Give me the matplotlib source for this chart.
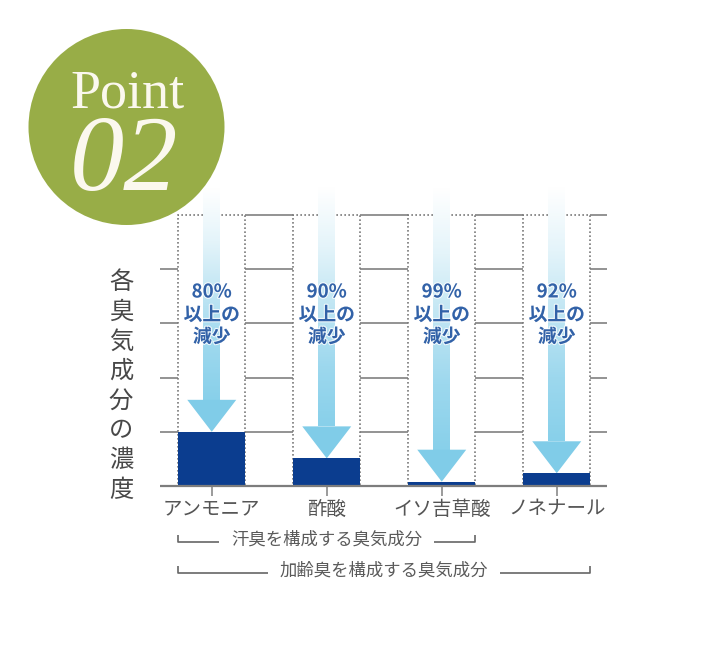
import numpy as np
import matplotlib
matplotlib.use('Agg')
import matplotlib.pyplot as plt
from matplotlib.patches import Rectangle, Polygon, Circle
from matplotlib.colors import LinearSegmentedColormap
import matplotlib.patheffects as pe

# データ
categories = ['アンモニア', '酢酸', 'イソ吉草酸', 'ノネナール']
remaining = [20, 10.2, 1.6, 4.7]        # 残った濃度 (%)
reduction = [80, 90, 99, 92]            # 減少率 (%)
ylabel_text = '各臭気成分の濃度'
group_labels = ['汗臭を構成する臭気成分', '加齢臭を構成する臭気成分']
group_spans = [(0, 2), (0, 3)]          # どのカテゴリからどのカテゴリまで
grid_levels = [20, 40, 60, 80, 100]

plt.rcParams['font.family'] = ['Noto Sans CJK JP', 'DejaVu Sans']

W, H = 714, 655
fig = plt.figure(figsize=(W / 100, H / 100), dpi=100)

# 左上の丸いバッジ
bg = fig.add_axes([0, 0, 1, 1], zorder=0)
bg.set_xlim(0, W)
bg.set_ylim(H, 0)
bg.axis('off')
bg.add_patch(Circle((126.5, 127), 98, color='#98ad47', lw=0))
bg.text(128, 107, 'Point', family='Liberation Serif', fontsize=39,
        color='#fbf8ee', ha='center', va='baseline')
bg.text(124, 190, '02', family='Liberation Serif', style='italic', fontsize=78,
        color='#fbf8ee', ha='center', va='baseline')

# メインの軸
ax = fig.add_axes([160 / W, 169 / H, 447 / W, 271 / H], zorder=1)
ax.patch.set_alpha(0)
xmin, xmax = -0.45, 3.437
x = np.arange(len(categories))
bw = 0.58

gray = '#8a8a8a'
# 横のグリッド線 (カラムの枠の中は描かない)
edges = [(i - bw / 2, i + bw / 2) for i in x]
for lvl in grid_levels:
    start = xmin if lvl < 100 else edges[0][0]
    segs = []
    pos = start
    for l, r in edges:
        if l > pos:
            segs.append((pos, l))
        pos = max(pos, r)
    segs.append((pos, xmax))
    for a, b in segs:
        ax.plot([a, b], [lvl, lvl], color=gray, lw=1.3, solid_capstyle='butt',
                zorder=1, clip_on=False)

# 点線の枠
for i in x:
    ax.add_patch(Rectangle((i - bw / 2, 0), bw, 100, facecolor='white',
                           edgecolor='#7a7a7a', lw=1.2, ls=(0, (1, 1.4)),
                           zorder=2, clip_on=False))

# 矢印 (グラデーション)
cmap = LinearSegmentedColormap.from_list(
    'arr', ['#ffffff', '#e4f4fa', '#bfe5f3', '#9dd8ee', '#88d0ea'])
grad = np.linspace(0, 1, 256).reshape(-1, 1)
head_h = 11.8
head_w = 0.213
shaft_w = 0.072
for i, h in zip(x, remaining):
    base = h + head_h
    ax.imshow(grad, extent=[i - shaft_w, i + shaft_w, base, 110], cmap=cmap,
              aspect='auto', origin='upper', zorder=3, clip_on=False,
              interpolation='bicubic')
    ax.add_patch(Polygon([(i - head_w, base), (i + head_w, base), (i, h)],
                         closed=True, facecolor='#80cce8', lw=0, zorder=3))

# 棒
ax.bar(x, remaining, width=bw, color='#0b3d8f', zorder=4)

# 減少率のラベル
stroke = [pe.withStroke(linewidth=1.6, foreground='white', alpha=0.8)]
for i, r in zip(x, reduction):
    for txt, yy in [(f'{r}%', 71.6), ('以上の', 63.1), ('減少', 55.0)]:
        ax.text(i, yy, txt, ha='center', va='center', fontsize=13.5,
                fontweight='bold', color='#3262a8', zorder=5,
                path_effects=stroke)

# 下の軸
ax.plot([xmin, xmax], [0, 0], color='#7d7d7d', lw=1.6, zorder=6, clip_on=False,
        solid_capstyle='butt')
ax.set_xlim(xmin, xmax)
ax.set_ylim(0, 100)
for s in ax.spines.values():
    s.set_visible(False)
ax.set_yticks([])
ax.set_xticks(x)
ax.set_xticklabels(categories, fontsize=14, color='#555555')
ax.tick_params(axis='x', length=7, width=1.2, color='#8a8a8a', pad=2)

# 縦書きの軸ラベル
for k, ch in enumerate(ylabel_text):
    fig.text(121 / W, 1 - (282 + k * 29.7) / H, ch, fontsize=17.5,
             color='#484848', ha='center', va='center')

# 下のブラケット
fig.canvas.draw()
renderer = fig.canvas.get_renderer()
inv = ax.transData.inverted()
for (a, b), lab, yl, yt in zip(group_spans, group_labels, [-20.7, -32.2], [-19.8, -31.2]):
    left = a - bw / 2
    right = b + bw / 2
    mid = (left + right) / 2
    t = ax.text(mid, yt, lab, ha='center', va='center', fontsize=12.5,
                color='#5a5a5a', clip_on=False)
    bb = t.get_window_extent(renderer)
    tl = inv.transform((bb.x0 - 12, 0))[0]
    tr = inv.transform((bb.x1 + 12, 0))[0]
    kw = dict(color='#666666', lw=1.2, clip_on=False, solid_capstyle='butt')
    ax.plot([left, left, tl], [yl + 2.8, yl, yl], **kw)
    ax.plot([tr, right, right], [yl, yl, yl + 2.8], **kw)

fig.savefig('out.png', dpi=100)
